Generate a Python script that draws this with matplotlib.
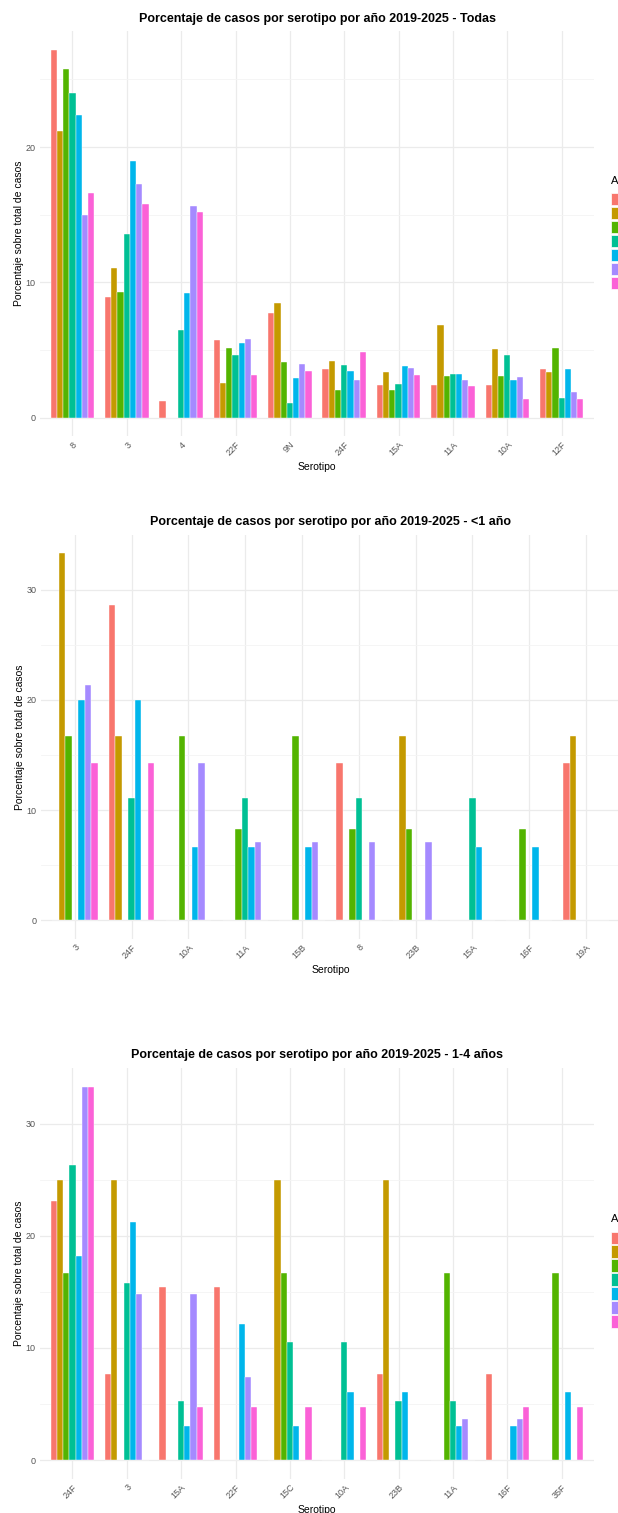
import matplotlib
matplotlib.use('Agg')
import matplotlib.pyplot as plt
import numpy as np
from matplotlib.patches import Rectangle
from matplotlib.ticker import MultipleLocator

plt.rcParams['font.family'] = ['Liberation Sans', 'DejaVu Sans']

years = ['2019', '2020', '2021', '2022', '2023', '2024', '2025']
colors = ['#F8766D', '#C49A00', '#53B400', '#00C094', '#00B6EB', '#A58AFF', '#FB61D7']

# Todas
cats_todas = ['8', '3', '4', '22F', '9N', '24F', '15A', '11A', '10A', '12F']
vals_todas = [
    [27.2, 21.2, 25.8, 24.0, 22.4, 14.95, 16.6],
    [8.94, 11.03, 9.26, 13.6, 19.0, 17.3, 15.8],
    [1.2, 0, 0, 6.5, 9.19, 15.67, 15.2],
    [5.71, 2.54, 5.15, 4.63, 5.54, 5.79, 3.15],
    [7.71, 8.5, 4.09, 1.06, 2.96, 3.99, 3.47],
    [3.62, 4.21, 2.07, 3.92, 3.42, 2.81, 4.88],
    [2.44, 3.35, 2.07, 2.51, 3.79, 3.64, 3.15],
    [2.44, 6.82, 3.1, 3.22, 3.25, 2.81, 2.36],
    [2.44, 5.1, 3.1, 4.63, 2.76, 2.98, 1.35],
    [3.62, 3.35, 5.17, 1.43, 3.62, 1.92, 1.35],
]

# <1 año
cats_menor1 = ['3', '24F', '10A', '11A', '15B', '8', '23B', '15A', '16F', '19A']
vals_menor1 = [
    [0, 33.3, 16.7, 0, 20.0, 21.4, 14.3],
    [28.6, 16.7, 0, 11.1, 20.0, 0, 14.3],
    [0, 0, 16.7, 0, 6.67, 14.3, 0],
    [0, 0, 8.33, 11.1, 6.67, 7.14, 0],
    [0, 0, 16.7, 0, 6.67, 7.14, 0],
    [14.3, 0, 8.33, 11.1, 0, 7.14, 0],
    [0, 16.7, 8.33, 0, 0, 7.14, 0],
    [0, 0, 0, 11.1, 6.67, 0, 0],
    [0, 0, 8.33, 0, 6.67, 0, 0],
    [14.3, 16.7, 0, 0, 0, 0, 0],
]

# 1-4 años
cats_1a4 = ['24F', '3', '15A', '22F', '15C', '10A', '23B', '11A', '16F', '35F']
vals_1a4 = [
    [23.1, 25.0, 16.7, 26.3, 18.2, 33.3, 33.3],
    [7.69, 25.0, 0, 15.8, 21.2, 14.8, 0],
    [15.4, 0, 0, 5.26, 3.03, 14.8, 4.76],
    [15.4, 0, 0, 0, 12.1, 7.41, 4.76],
    [0, 25.0, 16.7, 10.5, 3.03, 0, 4.76],
    [0, 0, 0, 10.5, 6.06, 0, 4.76],
    [7.69, 25.0, 0, 5.26, 6.06, 0, 0],
    [0, 0, 16.7, 5.26, 3.03, 3.7, 0],
    [7.69, 0, 0, 0, 3.03, 3.7, 4.76],
    [0, 0, 16.7, 0, 6.06, 0, 4.76],
]

W, H = 618, 1513
fig = plt.figure(figsize=(W / 100, H / 100), dpi=100)
fig.patch.set_facecolor('white')


def panel(cats, vals, title, box, legend_top=None):
    left, right, top, bottom = box
    ax = fig.add_axes([left / W, 1 - bottom / H, (right - left) / W, (bottom - top) / H])
    vals = np.array(vals)
    x = np.arange(len(cats))
    bw = 0.8 / len(years)
    for j, yr in enumerate(years):
        ax.bar(x - 0.4 + bw * (j + 0.5), vals[:, j], width=bw, color=colors[j],
               edgecolor='white', linewidth=0.3, zorder=3)
    ymax = vals.max()
    ax.set_ylim(-0.05 * ymax, 1.05 * ymax)
    ax.set_xlim(-0.6, len(cats) - 0.4)
    ax.set_xticks(x)
    ax.set_xticklabels(cats, rotation=45, ha='right', va='top', rotation_mode='anchor',
                       fontsize=6.5, color='#555555')
    ax.yaxis.set_major_locator(MultipleLocator(10))
    ax.yaxis.set_minor_locator(MultipleLocator(5))
    ax.tick_params(axis='y', labelsize=6.5, labelcolor='#555555', length=0, pad=3)
    ax.tick_params(axis='x', length=0, pad=3)
    ax.tick_params(which='minor', length=0)
    ax.grid(True, which='major', color='#EBEBEB', linewidth=0.9, zorder=0)
    ax.grid(True, which='minor', axis='y', color='#F4F4F4', linewidth=0.6, zorder=0)
    for s in ax.spines.values():
        s.set_visible(False)
    ax.set_title(title, fontsize=9, fontweight='bold', pad=7)
    ax.set_xlabel('Serotipo', fontsize=7.5, labelpad=3)
    ax.set_ylabel('Porcentaje sobre total de casos', fontsize=7.5, labelpad=1)
    if legend_top is not None:
        # leyenda cortada por el borde derecho, como en el original
        lx = 611
        fig.text(lx / W, 1 - (legend_top - 7) / H, 'Año', fontsize=8, ha='left', va='center')
        for j, yr in enumerate(years):
            y0 = legend_top + 5 + j * 13.95
            fig.add_artist(Rectangle((lx / W, 1 - (y0 + 12.3) / H), 12.3 / W, 12.3 / H,
                                     transform=fig.transFigure, facecolor=colors[j],
                                     edgecolor='white', linewidth=0.5))
            fig.text((lx + 17) / W, 1 - (y0 + 6) / H, yr, fontsize=6.5, va='center')
    return ax


panel(cats_todas, vals_todas, 'Porcentaje de casos por serotipo por año 2019-2025 - Todas',
      (39.8, 594.3, 31.3, 436), legend_top=188)
panel(cats_menor1, vals_menor1, 'Porcentaje de casos por serotipo por año 2019-2025 - <1 año',
      (40.8, 620, 535, 938.7))
panel(cats_1a4, vals_1a4, 'Porcentaje de casos por serotipo por año 2019-2025 - 1-4 años',
      (39.8, 594.3, 1068, 1478.7), legend_top=1226.5)

fig.savefig('out.png', dpi=100, facecolor='white')
